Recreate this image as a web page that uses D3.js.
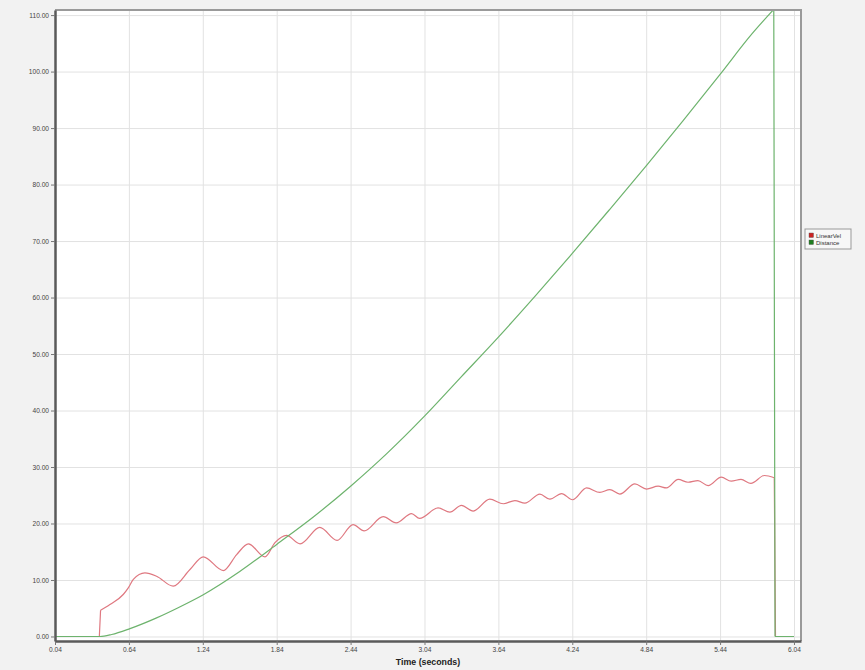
<!DOCTYPE html>
<html>
<head>
<meta charset="utf-8">
<script src="https://cdn.jsdelivr.net/npm/d3@7"></script>
<style>
  body { margin: 0; background: #f2f2f2; }
  svg { display: block; font-family: "Liberation Sans", Arial, sans-serif; }
</style>
</head>
<body>
<div id="chart"></div>
<script>
// tick values
const xTicks = [0.04, 0.64, 1.24, 1.84, 2.44, 3.04, 3.64, 4.24, 4.84, 5.44, 6.04];
const yTicks = [0, 10, 20, 30, 40, 50, 60, 70, 80, 90, 100, 110];

// LinearVel series
const velTime = [0.04, 0.40, 0.41, 0.486, 0.594, 0.635, 0.676, 0.77, 0.865, 1.0, 1.136, 1.244, 1.406,
  1.515, 1.61, 1.745, 1.826, 1.92, 2.03, 2.19, 2.33, 2.46, 2.55, 2.705, 2.81, 2.935, 3.0,
  3.15, 3.246, 3.34, 3.435, 3.57, 3.68, 3.774, 3.855, 3.977, 4.058, 4.153, 4.242, 4.356,
  4.464, 4.545, 4.626, 4.748, 4.843, 4.937, 5.005, 5.1, 5.18, 5.26, 5.343, 5.45, 5.53,
  5.61, 5.69, 5.80, 5.88, 5.89, 6.04];
const velValue = [0, 0, 4.65, 5.66, 7.43, 8.6, 10.1, 11.26, 10.67, 8.9, 11.85, 14.1, 11.67,
  14.5, 16.4, 14.1, 16.6, 17.9, 16.4, 19.3, 17.0, 19.8, 18.7, 21.2, 20.1, 21.75, 20.9,
  22.75, 22.0, 23.2, 22.2, 24.3, 23.5, 24.05, 23.6, 25.2, 24.3, 25.3, 24.2, 26.3,
  25.5, 26.0, 25.2, 27.0, 26.1, 26.6, 26.3, 27.8, 27.3, 27.6, 26.7, 28.2, 27.5,
  27.8, 27.1, 28.5, 28.1, 0, 0];

// Distance series
const distTime = [0.04, 0.405, 0.5, 0.649, 0.865, 1.04, 1.244, 1.54, 1.84, 2.14, 2.44, 2.74,
  3.04, 3.34, 3.64, 3.94, 4.24, 4.54, 4.84, 5.14, 5.44, 5.70, 5.876, 5.886, 6.04];
const distValue = [0, 0, 0.35, 1.4, 3.3, 5.1, 7.4, 11.5, 16.3, 21.2, 26.6, 32.5,
  39.0, 46.0, 53.0, 60.3, 67.8, 75.5, 83.3, 91.3, 99.5, 106.7, 111.0, 0, 0];

const seriesNames = ["LinearVel", "Distance"];
const seriesColors = ["#df7880", "#6db36d"];
const legendColors = ["#cc2222", "#1e7e1e"];

const W = 865, H = 670;
const plot = { left: 55, right: 801, top: 10, bottom: 641 };

const svg = d3.select("#chart").append("svg")
  .attr("width", W).attr("height", H);

svg.append("rect").attr("width", W).attr("height", H).attr("fill", "#f2f2f2");

const x = d3.scaleLinear().domain([0.04, 6.097]).range([plot.left, plot.right]);
const y = d3.scaleLinear().domain([-0.8, 110.9]).range([plot.bottom, plot.top]);

// plot background
svg.append("rect")
  .attr("x", plot.left).attr("y", plot.top)
  .attr("width", plot.right - plot.left).attr("height", plot.bottom - plot.top)
  .attr("fill", "#fff");

// grid
svg.append("g")
  .attr("transform", `translate(0,${plot.bottom})`)
  .call(d3.axisBottom(x).tickValues(xTicks).tickSize(-(plot.bottom - plot.top)).tickFormat(""))
  .call(g => g.select(".domain").remove())
  .call(g => g.selectAll("line").attr("stroke", "#e2e2e2"));

svg.append("g")
  .attr("transform", `translate(${plot.left},0)`)
  .call(d3.axisLeft(y).tickValues(yTicks).tickSize(-(plot.right - plot.left)).tickFormat(""))
  .call(g => g.select(".domain").remove())
  .call(g => g.selectAll("line").attr("stroke", "#e2e2e2"));

// lines: smooth runs, straight jumps where two samples sit very close in time
const smooth = d3.line().x(d => x(d[0])).y(d => y(d[1])).curve(d3.curveMonotoneX);
const straight = d3.line().x(d => x(d[0])).y(d => y(d[1]));

function pathFor(pts) {
  const runs = [];
  let cur = [pts[0]];
  for (let i = 1; i < pts.length; i++) {
    if (pts[i][0] - pts[i - 1][0] < 0.02) {
      runs.push(cur);
      cur = [pts[i]];
    } else cur.push(pts[i]);
  }
  runs.push(cur);
  let d = runs.map(r => r.length > 1 ? smooth(r) : "").join("");
  for (let i = 1; i < runs.length; i++) {
    d += straight([runs[i - 1][runs[i - 1].length - 1], runs[i][0]]);
  }
  return d;
}

const series = [
  velTime.map((t, i) => [t, velValue[i]]),
  distTime.map((t, i) => [t, distValue[i]])
];

svg.selectAll(".series")
  .data(series)
  .join("path")
  .attr("class", "series")
  .attr("fill", "none")
  .attr("stroke", (d, i) => seriesColors[i])
  .attr("stroke-width", 1.2)
  .attr("stroke-linejoin", "round")
  .attr("d", pathFor);

// border: top/right light, left/bottom dark
svg.append("line").attr("x1", plot.left).attr("x2", plot.right + 1)
  .attr("y1", plot.top).attr("y2", plot.top)
  .attr("stroke", "#9a9a9a").attr("stroke-width", 2);
svg.append("line").attr("x1", plot.right).attr("x2", plot.right)
  .attr("y1", plot.top).attr("y2", plot.bottom)
  .attr("stroke", "#9a9a9a").attr("stroke-width", 2);

// axes
const xAxis = svg.append("g")
  .attr("transform", `translate(0,${plot.bottom})`)
  .call(d3.axisBottom(x).tickValues(xTicks).tickFormat(d3.format(".2f")).tickSizeInner(4).tickSizeOuter(0).tickPadding(2));
xAxis.select(".domain").attr("stroke", "#5a5a5a").attr("stroke-width", 2.5);
xAxis.selectAll("line").attr("stroke", "#777");
xAxis.selectAll("text").attr("font-size", 6.6).attr("fill", "#444").attr("font-family", "Liberation Sans, Arial, sans-serif");

const yAxis = svg.append("g")
  .attr("transform", `translate(${plot.left},0)`)
  .call(d3.axisLeft(y).tickValues(yTicks).tickFormat(d3.format(".2f")).tickSizeInner(4).tickSizeOuter(0).tickPadding(2));
yAxis.select(".domain").attr("stroke", "#5a5a5a").attr("stroke-width", 2.5);
yAxis.selectAll("line").attr("stroke", "#777");
yAxis.selectAll("text").attr("font-size", 6.6).attr("fill", "#444").attr("font-family", "Liberation Sans, Arial, sans-serif");

svg.append("text")
  .attr("x", (plot.left + plot.right) / 2)
  .attr("y", 665)
  .attr("text-anchor", "middle")
  .attr("font-size", 8.8)
  .attr("font-weight", "bold")
  .attr("fill", "#222")
  .text("Time (seconds)");

// legend
const legend = svg.append("g").attr("transform", "translate(805,229)");
legend.append("rect")
  .attr("width", 46).attr("height", 20)
  .attr("fill", "#f7f7f7").attr("stroke", "#999");
const items = legend.selectAll(".item")
  .data(seriesNames)
  .join("g")
  .attr("class", "item")
  .attr("transform", (d, i) => `translate(4,${4 + i * 7})`);
items.append("rect")
  .attr("width", 4.5).attr("height", 4.5)
  .attr("fill", (d, i) => legendColors[i])
  .attr("stroke", "#555").attr("stroke-width", 0.4);
items.append("text")
  .attr("x", 7).attr("y", 4.5)
  .attr("font-size", 6)
  .attr("fill", "#333")
  .text(d => d);
</script>
</body>
</html>
